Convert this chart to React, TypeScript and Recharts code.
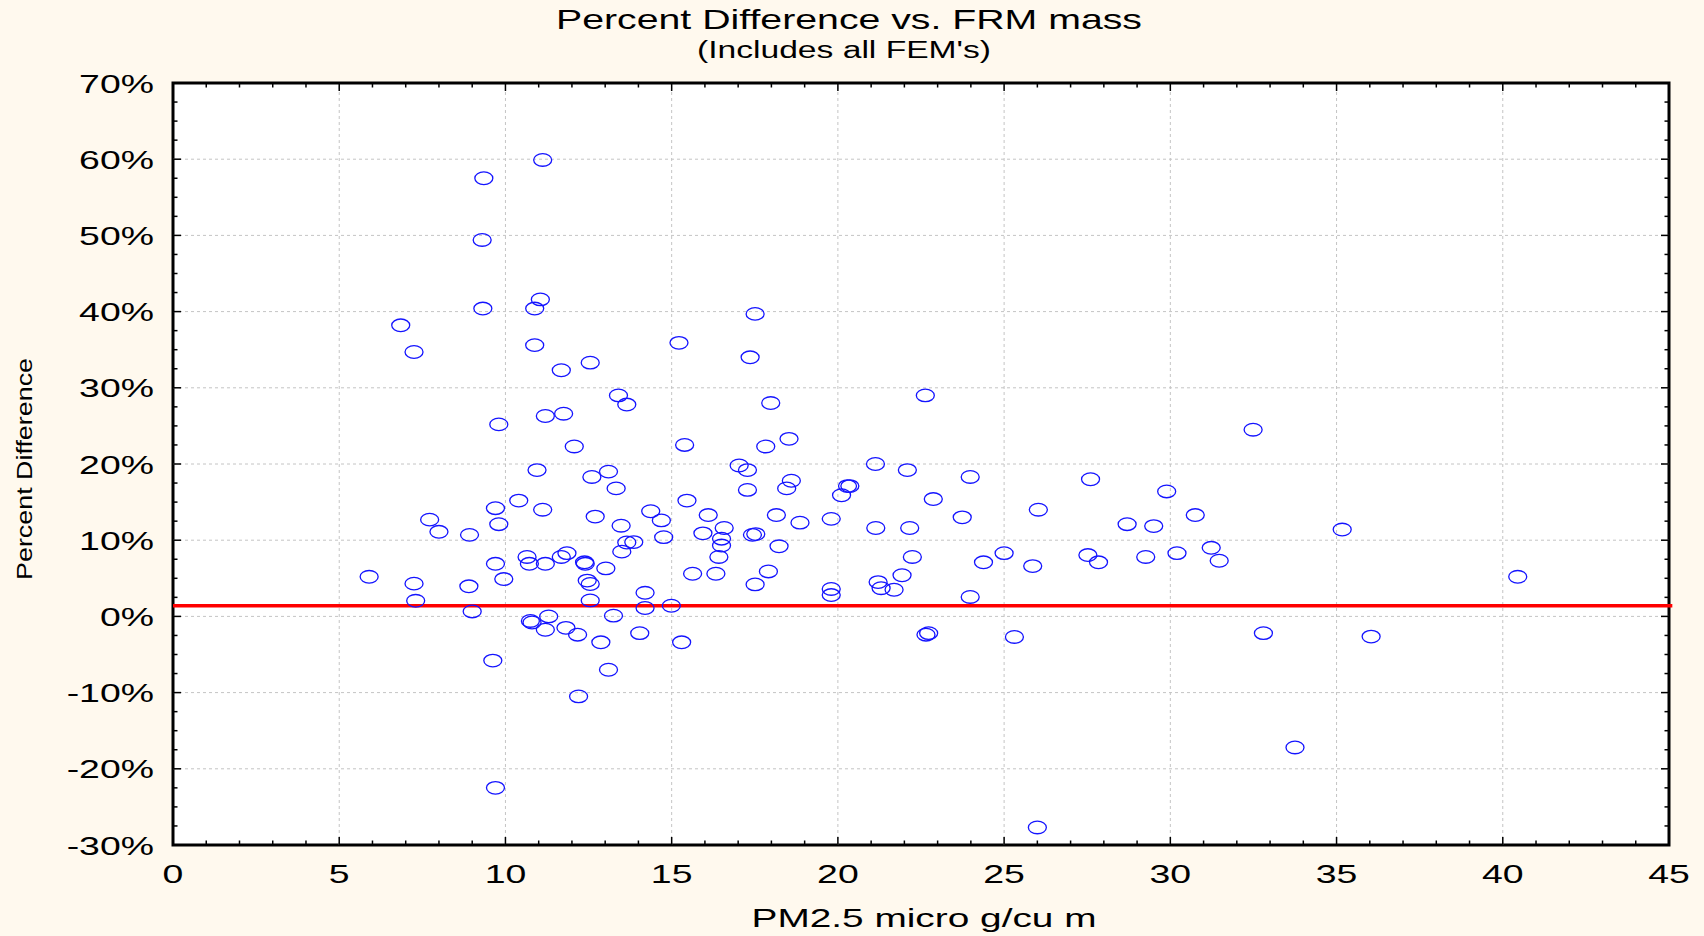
import React from "react";
import {
    ScatterChart,
    Scatter,
    XAxis,
    YAxis,
    ReferenceLine,
    ReferenceArea,
    CartesianGrid,
} from "recharts";

// PM2.5 mass measured by the FRM (micro g/cu m)
const pmMass = [
    5.9, 6.85, 7.25, 7.25, 7.3, 7.72, 8.0, 8.9, 8.92, 9.0,
    9.35, 9.3, 9.32, 9.8, 9.7, 9.8, 9.7, 9.62, 9.7, 9.95,
    10.4, 10.65, 10.72, 10.75, 10.8, 10.88, 11.05, 10.88, 10.95, 11.12,
    11.12, 11.2, 11.2, 11.2, 11.3, 11.68, 11.75, 11.68, 11.82, 11.85,
    12.07, 12.17, 12.2, 12.38, 12.4, 12.46, 12.55, 12.55, 12.6, 12.55,
    12.7, 12.87, 13.02, 13.1, 13.1, 13.25, 13.33, 13.4, 13.48, 13.5,
    13.65, 13.65, 13.86, 14.04, 14.2, 14.2, 14.37, 14.69, 14.76, 14.99,
    15.22, 15.3, 15.39, 15.46, 15.63, 15.94, 16.1, 16.33, 16.42, 16.5,
    16.5, 16.58, 17.03, 17.28, 17.28, 17.36, 17.43, 17.53, 17.51, 17.51,
    17.83, 17.91, 17.98, 18.15, 18.23, 18.46, 18.53, 18.6, 18.86, 19.8,
    19.8, 19.8, 20.11, 20.29, 20.36, 21.13, 21.14, 21.21, 21.3, 21.69,
    21.93, 22.09, 22.16, 22.24, 22.63, 22.65, 22.73, 22.87, 23.74, 23.98,
    23.98, 24.38, 25.0, 25.31, 25.86, 26.03, 26.0, 27.52, 27.6, 27.84,
    28.7, 29.26, 29.5, 29.89, 30.2, 30.75, 31.23, 31.47, 32.49, 32.8,
    33.75, 35.17, 36.04, 40.45,
];

// percent difference of the FEM reading from the FRM mass
const pctDiff = [
    5.2, 38.2, 34.7, 4.3, 2.05, 12.7, 11.1, 3.95, 10.7, 0.65,
    57.5, 49.4, 40.4, 25.2, 14.2, 12.1, 6.9, -5.8, -22.5, 4.9,
    15.2, 7.8, 6.9, -0.6, -0.8, 40.4, 41.6, 35.6, 19.2, 59.9,
    14.0, 26.3, 6.9, -1.75, 0.0, 32.3, 26.6, 7.8, -1.5, 8.3,
    22.3, -2.4, -10.5, 7.1, 6.9, 4.7, 4.25, 33.3, 18.3, 2.1,
    13.1, -3.4, 6.3, 19.0, -7.0, 0.1, 16.8, 29.0, 11.9, 8.5,
    27.8, 9.7, 9.75, -2.2, 3.1, 1.1, 13.8, 12.6, 10.4, 1.4,
    35.9, -3.4, 22.5, 15.2, 5.6, 10.9, 13.3, 5.6, 7.8, 9.3,
    10.2, 11.6, 19.8, 19.2, 16.6, 34.0, 10.7, 10.8, 4.2, 39.7,
    22.3, 5.9, 28.0, 13.3, 9.2, 16.8, 23.3, 17.8, 12.3, 12.8,
    3.6, 2.8, 15.9, 17.1, 17.1, 20.0, 11.6, 4.5, 3.7, 3.5,
    5.4, 19.2, 11.6, 7.8, 29.0, -2.4, -2.2, 15.4, 13.0, 18.3,
    2.55, 7.1, 8.3, -2.7, 6.6, 14.0, -27.7, 8.05, 18.0, 7.1,
    12.1, 7.8, 11.85, 16.4, 8.3, 13.3, 9.0, 7.3, 24.5, -2.2,
    -17.2, 11.4, -2.65, 5.2,
];

const meanDiff = 1.4;

const xTicks = [0, 5, 10, 15, 20, 25, 30, 35, 40, 45];
const yTicks = [-30, -20, -10, 0, 10, 20, 30, 40, 50, 60, 70];

// minor ticks: every unit on x, every 2.5 % on y
const xMinor = Array.from({ length: 46 }, (_, i) => i);
const yMinor = Array.from({ length: 41 }, (_, i) => -30 + i * 2.5);

const points = pmMass.map((x, i) => ({ x, y: pctDiff[i] }));

const W = 1704;
const H = 936;
const PLOT = { left: 173, right: 1669, top: 83, bottom: 845 };
const FONT = "'Liberation Sans', Arial, sans-serif";
const STRETCH = 1.44;

const XTick = (props: any) => {
    const { x, payload } = props;
    const major = xTicks.includes(payload.value);
    const len = major ? 8 : 4.5;
    return (
        <g>
            <line x1={x} x2={x} y1={PLOT.bottom} y2={PLOT.bottom - len} stroke="#000" strokeWidth={1.5} />
            <line x1={x} x2={x} y1={PLOT.top} y2={PLOT.top + len} stroke="#000" strokeWidth={1.5} />
            {major && (
                <text
                    transform={`translate(${x},${PLOT.bottom + 38}) scale(${STRETCH},1)`}
                    textAnchor="middle"
                    fontFamily={FONT}
                    fontSize={26}
                    fill="#000"
                >
                    {payload.value}
                </text>
            )}
        </g>
    );
};

const YTick = (props: any) => {
    const { y, payload } = props;
    const major = yTicks.includes(payload.value);
    const len = major ? 8 : 4.5;
    return (
        <g>
            <line x1={PLOT.left} x2={PLOT.left + len} y1={y} y2={y} stroke="#000" strokeWidth={1.5} />
            <line x1={PLOT.right} x2={PLOT.right - len} y1={y} y2={y} stroke="#000" strokeWidth={1.5} />
            {major && (
                <text
                    transform={`translate(154,${y + 9.5}) scale(${STRETCH},1)`}
                    textAnchor="end"
                    fontFamily={FONT}
                    fontSize={26}
                    fill="#000"
                >
                    {`${payload.value}%`}
                </text>
            )}
        </g>
    );
};

const Ring = (props: any) => (
    <ellipse
        cx={props.cx}
        cy={props.cy}
        rx={9}
        ry={6.3}
        fill="none"
        stroke="#1414ff"
        strokeWidth={1.3}
    />
);

export default function App() {
    return (
        <div
            style={{
                position: "absolute",
                left: 0,
                top: 0,
                width: W,
                height: H,
                background: "#fff9ee",
            }}
        >
            <ScatterChart
                width={W}
                height={H}
                margin={{ top: PLOT.top, right: W - PLOT.right, bottom: 0, left: 0 }}
            >
                <CartesianGrid fill="#ffffff" horizontal={false} vertical={false} />
                <XAxis
                    type="number"
                    dataKey="x"
                    domain={[0, 45]}
                    ticks={xMinor}
                    interval={0}
                    height={H - PLOT.bottom}
                    axisLine={false}
                    tickLine={false}
                    tick={(p: any) => <XTick {...p} />}
                />
                <YAxis
                    type="number"
                    dataKey="y"
                    domain={[-30, 70]}
                    ticks={yMinor}
                    interval={0}
                    width={PLOT.left}
                    axisLine={false}
                    tickLine={false}
                    tick={(p: any) => <YTick {...p} />}
                />
                {xTicks.slice(1, -1).map((v) => (
                    <ReferenceLine key={`gx${v}`} x={v} stroke="#c4c4c4" strokeDasharray="3 3" />
                ))}
                {yTicks.slice(1, -1).map((v) => (
                    <ReferenceLine key={`gy${v}`} y={v} stroke="#c4c4c4" strokeDasharray="3 3" />
                ))}
                <Scatter data={points} shape={Ring} isAnimationActive={false} />
                {/* mean difference line, running a touch past the right frame */}
                <ReferenceLine
                    segment={[
                        { x: 0, y: meanDiff },
                        { x: 45.1, y: meanDiff },
                    ]}
                    ifOverflow="visible"
                    stroke="#ff0000"
                    strokeWidth={3.5}
                />
                <ReferenceArea x1={0} x2={45} y1={-30} y2={70} fill="none" stroke="#000" strokeWidth={3} />
            </ScatterChart>
            <svg
                width={W}
                height={H}
                style={{ position: "absolute", left: 0, top: 0, pointerEvents: "none" }}
            >
                <text x={849} y={29} textAnchor="middle" fontFamily={FONT} fontSize={28.5} textLength={586} lengthAdjust="spacingAndGlyphs">
                    Percent Difference vs. FRM mass
                </text>
                <text x={844} y={58} textAnchor="middle" fontFamily={FONT} fontSize={23} textLength={294} lengthAdjust="spacingAndGlyphs">
                    (Includes all FEM's)
                </text>
                <text x={924} y={927} textAnchor="middle" fontFamily={FONT} fontSize={25} textLength={345} lengthAdjust="spacingAndGlyphs">
                    PM2.5 micro g/cu m
                </text>
                <text
                    transform="translate(32,469) rotate(-90)"
                    textAnchor="middle"
                    fontFamily={FONT}
                    fontSize={22}
                    textLength={222}
                    lengthAdjust="spacingAndGlyphs"
                >
                    Percent Difference
                </text>
            </svg>
        </div>
    );
}
